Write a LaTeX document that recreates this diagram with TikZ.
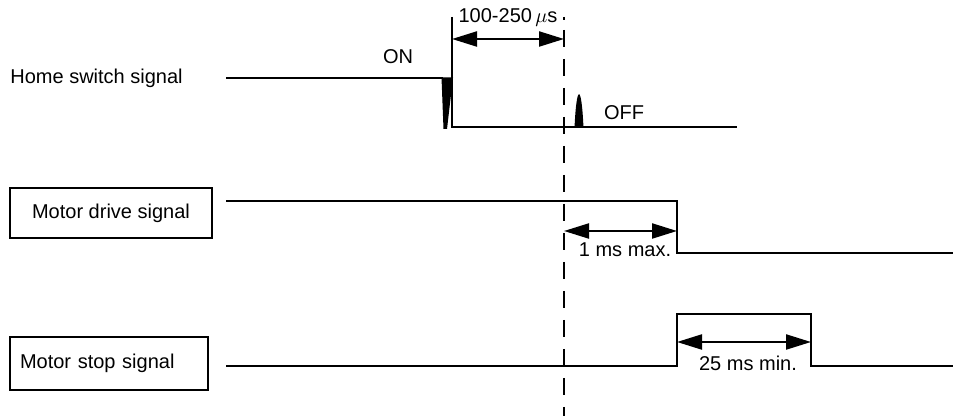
\documentclass[tikz,border=0pt]{standalone}
\usepackage{fontspec}
\setmainfont{Liberation Sans}
\usetikzlibrary{arrows.meta,positioning}

\begin{document}
\begin{tikzpicture}[x=0.5pt, y=-0.5pt, every node/.style={font=\fontsize{10}{12}\selectfont},
	sig/.style={line width=1.1pt},
	sigbox/.style={draw, line width=1.2pt, minimum height=25pt, inner sep=0pt},
	dim/.style={line width=1.1pt, {Triangle[length=12.5pt,width=7.5pt]}-{Triangle[length=12.5pt,width=7.5pt]}}]
	\useasboundingbox (0,0) rectangle (953,416);
	
	% signal names
	\node[anchor=west, inner sep=0pt] (home) at (10,78) {Home switch signal};
	\node[sigbox, minimum width=101pt] (drive) at (111,213) {Motor drive signal};
	\node[sigbox, text width=89pt, inner xsep=5pt, align=left, minimum height=26.5pt] (stop) at (109,363.5) {Motor stop signal};
	
	% key instants
	\coordinate (edge) at (452,127);
	\coordinate (cut) at (564,17);
	\coordinate (dfall) at (677,201);
	\coordinate (srise) at (677,366);
	\coordinate (sfall) at (811,366);
	
	% home switch
	\draw[sig] (226,78) -- (443,78);
	\fill (441.5,77.5) -- (453,77.5) -- (447,129) -- (443.5,129) -- cycle;
	\draw[line width=0.9pt] (452,17) -- (edge) -- (737,127);
	\fill (574.5,128) .. controls (576.5,83) and (581.5,83) .. (583.5,128) -- cycle;
	\node (on) at (398,57) {ON};
	\node (off) at (624,113) {OFF};
	
	% dashed line
	\draw[line width=1.1pt, dash pattern=on 1.5pt off 5pt on 8.5pt off 6pt on 8.5pt off 6pt on 8.5pt off 6pt on 8.5pt off 6pt on 8.5pt off 6pt on 8.5pt off 6pt on 8.5pt off 6pt on 8.5pt off 6pt on 8.5pt off 6pt on 8.5pt off 6pt on 8.5pt off 6pt on 8.5pt off 6pt on 8.5pt off 6pt on 8.5pt off 6pt] (cut) -- (564,416);
	
	% motor drive
	\draw[sig] (226,201) -- (dfall) -- (677,253) -- (953,253);
	
	% motor stop
	\draw[sig] (226,366) -- (srise) -- (677,314) -- (811,314) -- (sfall) -- (953,366);
	
	% times
	\draw[dim] (452,39) -- (564,39);
	\node (tspike) at (508,17) {100-250\,$\mu$s};
	\draw[dim] (564,231) -- (677,231);
	\node (tmax) at (625,250) {1 ms max.};
	\draw[dim] (677,342) -- (811,342);
	\node (tmin) at (748,363) {25 ms min.};
\end{tikzpicture}
\end{document}
